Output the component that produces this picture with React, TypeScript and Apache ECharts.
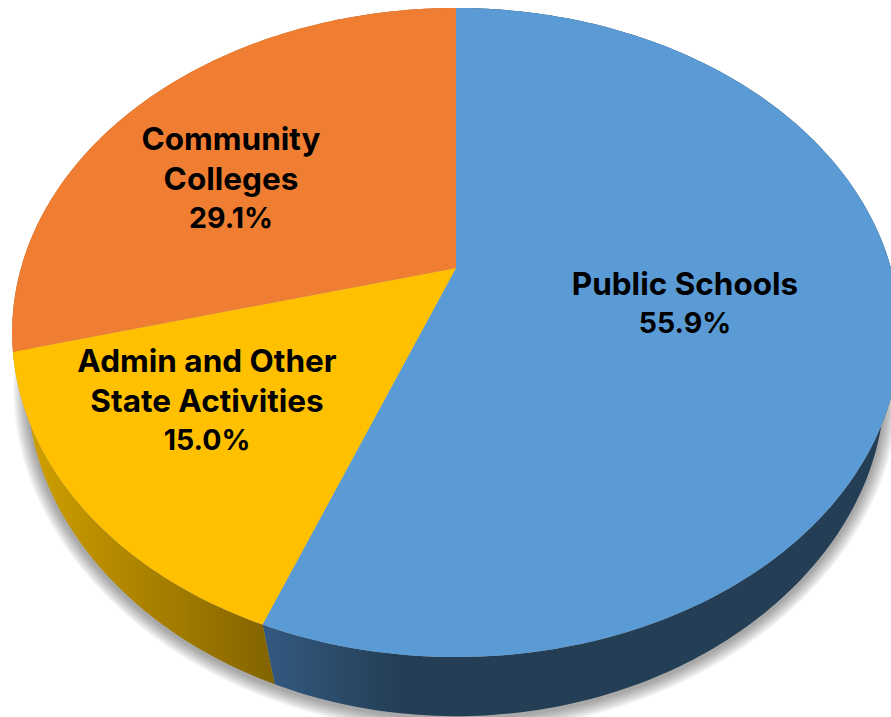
import React, { useEffect, useRef } from "react";
import * as echarts from "echarts";

const categories = ["Public Schools", "Admin and Other\nState Activities", "Community\nColleges"];
const shares = [55.9, 15.0, 29.1];
const shareLabels = ["55.9%", "15.0%", "29.1%"];
const topColors = ["#5B9BD5", "#FFC000", "#F07E32"];

const CX = 456;
const CY = 268;
const A = 435;
const B = 311.7;
const K = 0.1988;
const ELLIPSE_CY = 332;
const ELLIPSE_RY = 325;
const SIDE_SY = 0.985;
const SIDE_CY = 396;

const labelAnchors = [
  [685, 303],
  [207, 400],
  [231, 178],
];
const shadowLayers = [14, 12, 10, 8, 6, 4, 2];

const total = shares.reduce((s, v) => s + v, 0);

function topPoint(deg: number): number[] {
  const t = (deg * Math.PI) / 180;
  const u = Math.sin(t);
  const v = -Math.cos(t);
  const d = 1 - K * v;
  return [CX + (A * u) / d, CY + (B * v) / d];
}
function bottomPoint(deg: number): number[] {
  const p = topPoint(deg);
  const dy = (p[1] - ELLIPSE_CY) / ELLIPSE_RY;
  const sx = 0.965 - 0.03 * dy;
  return [CX + (p[0] - CX) * sx, SIDE_CY + (p[1] - ELLIPSE_CY) * SIDE_SY];
}
function arcPoints(fn: (d: number) => number[], a: number, b: number): number[][] {
  const n = Math.max(2, Math.ceil(Math.abs(b - a)));
  const pts: number[][] = [];
  for (let i = 0; i <= n; i++) pts.push(fn(a + ((b - a) * i) / n));
  return pts;
}
function sliceRange(i: number): number[] {
  const before = shares.slice(0, i).reduce((s, v) => s + v, 0);
  return [(before / total) * 360, ((before + shares[i]) / total) * 360];
}
function hGradient(x: number, x2: number, from: string, to: string) {
  return {
    type: "linear",
    x,
    y: 0,
    x2,
    y2: 0,
    global: true,
    colorStops: [
      { offset: 0, color: from },
      { offset: 1, color: to },
    ],
  };
}
const sideFills = [
  hGradient(270, 400, "#33587F", "#243F55"),
  hGradient(40, 275, "#CC9C00", "#826300"),
  "#B35E25",
];

export default function App() {
  const ref = useRef<HTMLDivElement>(null);
  useEffect(() => {
    document.body.style.margin = "0";
    const chart = echarts.init(ref.current!, undefined, { renderer: "svg" });
    chart.setOption({
      animation: false,
      backgroundColor: "#ffffff",
      series: [
        {
          type: "custom",
          coordinateSystem: "none",
          silent: true,
          z: 1,
          data: shadowLayers,
          renderItem: (params: any, api: any) => {
            const d = api.value(0);
            const pts = arcPoints(bottomPoint, 0, 360).map((p) => {
              const r = Math.hypot(p[0] - CX, p[1] - SIDE_CY) || 1;
              return [p[0] + ((p[0] - CX) / r) * d, p[1] + ((p[1] - SIDE_CY) / r) * d + 2];
            });
            return {
              type: "polygon",
              shape: { points: pts },
              style: { fill: "rgba(0,0,0,0.055)" },
            };
          },
        },
        {
          type: "custom",
          coordinateSystem: "none",
          silent: true,
          z: 2,
          data: shares,
          renderItem: (params: any) => {
            const i = params.dataIndex;
            const [a, b] = sliceRange(i);
            const pts = arcPoints(topPoint, a, b).concat(arcPoints(bottomPoint, b, a));
            return { type: "polygon", shape: { points: pts }, style: { fill: sideFills[i] } };
          },
        },
        {
          type: "custom",
          coordinateSystem: "none",
          silent: true,
          z: 3,
          data: shares,
          renderItem: (params: any) => {
            const i = params.dataIndex;
            const [a, b] = sliceRange(i);
            const pts = [[CX, CY]].concat(arcPoints(topPoint, a, b));
            return { type: "polygon", shape: { points: pts }, style: { fill: topColors[i] } };
          },
        },
        {
          type: "custom",
          coordinateSystem: "none",
          silent: true,
          z: 4,
          data: shares,
          renderItem: (params: any) => {
            const i = params.dataIndex;
            const nameLines = categories[i]
              .split("\n")
              .map((line) => `{n|${line}}`)
              .join("\n");
            return {
              type: "text",
              style: {
                text: `${nameLines}\n{p|${shareLabels[i]}}`,
                x: labelAnchors[i][0],
                y: labelAnchors[i][1],
                align: "center",
                verticalAlign: "middle",
                fontFamily: "Inter",
                fontWeight: "bold",
                fill: "#000000",
                rich: {
                  n: { fontFamily: "Inter", fontWeight: "bold", fontSize: 31.5, lineHeight: 39.5, fill: "#000000" },
                  p: { fontFamily: "Inter", fontWeight: "bold", fontSize: 28.5, lineHeight: 39.5, fill: "#000000" },
                },
              },
            };
          },
        },
      ],
    });
    return () => chart.dispose();
  }, []);
  return <div ref={ref} style={{ width: 891, height: 717 }} />;
}
